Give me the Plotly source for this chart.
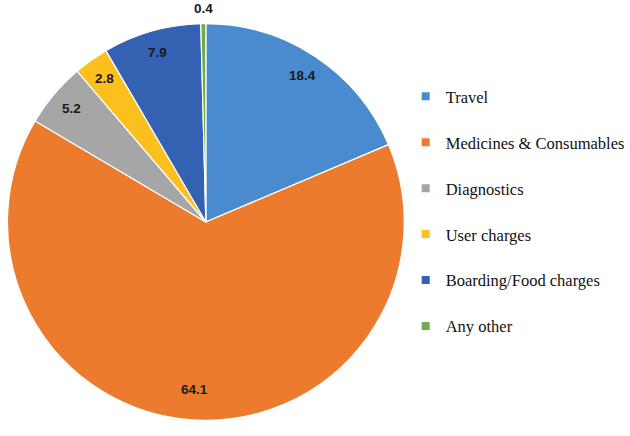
import math
import plotly.graph_objects as go

categories = ["Travel", "Medicines & Consumables", "Diagnostics", "User charges",
              "Boarding/Food charges", "Any other"]
values = [18.4, 64.1, 5.2, 2.8, 7.9, 0.4]
colors = ["#4a8bd0", "#ed7b2e", "#a6a6a6", "#fbbf1e", "#3461b2", "#70ad47"]
label_texts = ["18.4", "64.1", "5.2", "2.8", "7.9", "0.4"]

W, H = 630, 436
cx, cy, R = 206.5, 222.0, 199.0  # pie centre / radius in pixels

fig = go.Figure()
fig.add_trace(go.Pie(
    labels=categories, values=values, sort=False, direction="clockwise",
    rotation=0, marker=dict(colors=colors, line=dict(color="white", width=1.2)),
    textinfo="none", hoverinfo="label+value", showlegend=False,
    domain=dict(x=[(cx - R) / W, (cx + R) / W], y=[1 - (cy + R) / H, 1 - (cy - R) / H]),
))

# legend via invisible scatter traces (for spacing)
for c, col in zip(categories, colors):
    fig.add_trace(go.Scatter(x=[None], y=[None], mode="markers", name=c,
                             legendgroup=c,
                             marker=dict(symbol="square", size=8, color=col)))

total = sum(values)
cum = 0.0
annotations = []
for v, t in zip(values, label_texts):
    mid = (cum + v / 2) / total * 2 * math.pi
    cum += v
    frac = v / total
    if frac < 0.01:
        r = R * 1.075
    elif frac > 0.5:
        r = R * 0.845
    else:
        r = R * 0.885
    px = cx + r * math.sin(mid)
    py = cy - r * math.cos(mid)
    annotations.append(dict(x=px / W, y=1 - py / H, xref="paper", yref="paper",
                            text="<b>%s</b>" % t, showarrow=False,
                            font=dict(family="Liberation Sans", size=13.5, color="#1a1a1a"),
                            xanchor="center", yanchor="middle"))

fig.update_layout(
    width=W, height=H, margin=dict(l=0, r=0, t=0, b=0),
    paper_bgcolor="white", plot_bgcolor="white",
    xaxis=dict(visible=False), yaxis=dict(visible=False),
    annotations=annotations,
    legend=dict(x=407 / W, y=1 - 79 / H, xanchor="left", yanchor="top",
                font=dict(family="Liberation Serif", size=16.5, color="#111111"),
                tracegroupgap=21.5, bgcolor="rgba(0,0,0,0)"),
)

fig.write_html("out.html", config={"displayModeBar": False})

# remove the default 8px body margin so the figure sits at the window origin
with open("out.html", "r", encoding="utf-8") as f:
    html = f.read()
html = html.replace("<body>", '<body style="margin:0;padding:0;">', 1)
with open("out.html", "w", encoding="utf-8") as f:
    f.write(html)
